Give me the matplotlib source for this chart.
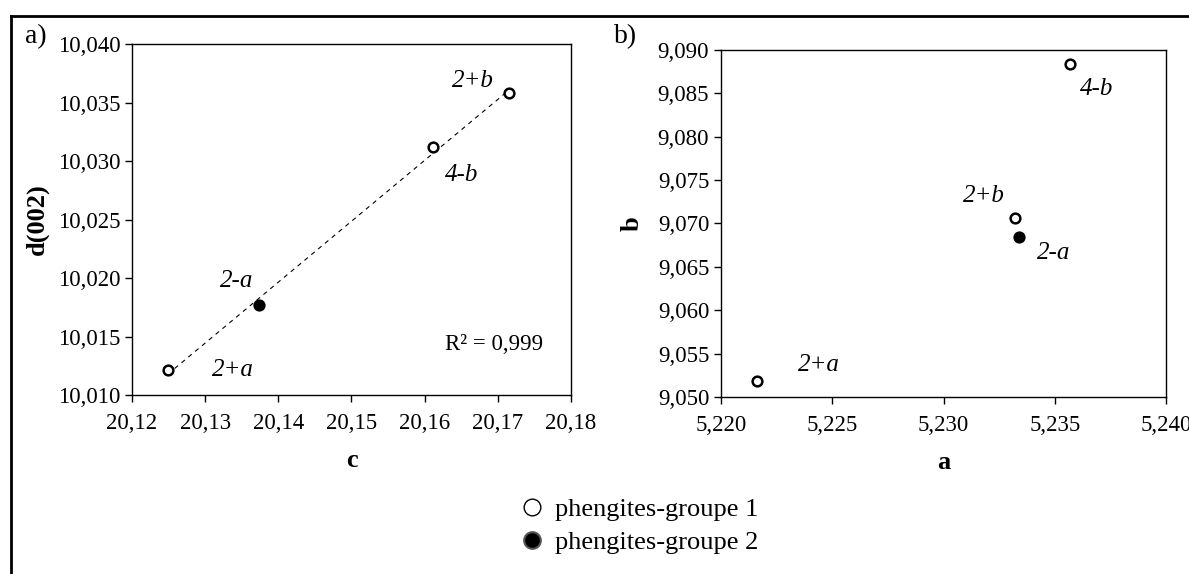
import numpy as np
import matplotlib
matplotlib.use('Agg')
import matplotlib.pyplot as plt
from matplotlib.ticker import FuncFormatter, MultipleLocator
from matplotlib.lines import Line2D

plt.rcParams['font.family'] = ['Liberation Serif', 'DejaVu Serif']

# panel a) d(002) vs c
names_a = ['2+a', '2-a', '4-b', '2+b']
c_vals = [20.1249, 20.1374, 20.1612, 20.1715]
d002_vals = [10.0121, 10.0177, 10.0312, 10.0358]
group_a = [1, 2, 1, 1]

# panel b) b vs a
names_b = ['2+a', '2-a', '4-b', '2+b']
a_vals = [5.2216, 5.2334, 5.2357, 5.2332]
b_vals = [9.0518, 9.0684, 9.0884, 9.0706]
group_b = [1, 2, 1, 1]

r2_text = 'R² = 0,999'
legend_labels = ['phengites-groupe 1', 'phengites-groupe 2']

# label offsets in points (dx, dy)
offs_a = {'2+a': (47, 0), '2-a': (-16, 17), '4-b': (20, -20), '2+b': (-26, 9)}
offs_b = {'2+a': (45, 12), '2-a': (25, -11), '4-b': (19, -18), '2+b': (-22, 16)}


def comma_fmt(nd):
    return FuncFormatter(lambda v, p: ('{:.%df}' % nd).format(v).replace('.', ','))


def draw_points(ax, xs, ys, groups, names, offs):
    for x, y, g, n in zip(xs, ys, groups, names):
        face = 'white' if g == 1 else 'black'
        ax.plot(x, y, 'o', ms=7, mew=1.8, mfc=face, mec='black', zorder=3)
        dx, dy = offs[n]
        ax.annotate(n, (x, y), xytext=(dx, dy), textcoords='offset points',
                    ha='center', va='center', fontsize=18, style='italic')


def style_axes(ax):
    for s in ax.spines.values():
        s.set_linewidth(1.0)
    ax.tick_params(axis='x', pad=8)
    ax.tick_params(direction='out', length=5, width=1, labelsize=16.5,
                   top=False, right=False)


fig = plt.figure(figsize=(11.89, 5.74), dpi=100)

ax1 = fig.add_axes([0.1110, 0.3118, 0.3692, 0.6115])
ax2 = fig.add_axes([0.6064, 0.3084, 0.3743, 0.6045])

# left panel
coef = np.polyfit(c_vals, d002_vals, 1)
xfit = np.array([min(c_vals), max(c_vals)])
ax1.plot(xfit, np.polyval(coef, xfit), ls=(0, (4, 4)), color='black', lw=0.8, zorder=2)
draw_points(ax1, c_vals, d002_vals, group_a, names_a, offs_a)
ax1.set_xlim(20.12, 20.18)
ax1.set_ylim(10.010, 10.040)
ax1.xaxis.set_major_locator(MultipleLocator(0.01))
ax1.yaxis.set_major_locator(MultipleLocator(0.005))
ax1.xaxis.set_major_formatter(comma_fmt(2))
ax1.yaxis.set_major_formatter(comma_fmt(3))
ax1.set_xlabel('c', fontsize=19, fontweight='bold', labelpad=11)
ax1.set_ylabel('d(002)', fontsize=19, fontweight='bold', labelpad=6)
ax1.text(0.825, 0.145, r2_text, transform=ax1.transAxes, ha='center', va='center', fontsize=16.5)
style_axes(ax1)

# right panel
draw_points(ax2, a_vals, b_vals, group_b, names_b, offs_b)
ax2.set_xlim(5.220, 5.240)
ax2.set_ylim(9.050, 9.090)
ax2.xaxis.set_major_locator(MultipleLocator(0.005))
ax2.yaxis.set_major_locator(MultipleLocator(0.005))
ax2.xaxis.set_major_formatter(comma_fmt(3))
ax2.yaxis.set_major_formatter(comma_fmt(3))
ax2.set_xlabel('a', fontsize=19, fontweight='bold', labelpad=11)
ax2.set_ylabel('b', fontsize=19, fontweight='bold', labelpad=10)
style_axes(ax2)

# panel letters
fig.text(36 / 1189, 1 - 37 / 574, 'a)', fontsize=20, ha='center', va='center')
fig.text(626 / 1189, 1 - 37 / 574, 'b)', fontsize=20, ha='center', va='center')

# legend
handles = [
    Line2D([], [], ls='', marker='o', ms=12, mfc='white', mec='black', mew=1.0),
    Line2D([], [], ls='', marker='o', ms=12, mfc='black', mec='#555555', mew=1.5),
]
fig.legend(handles, legend_labels, loc='center left', bbox_to_anchor=(506 / 1189, 1 - 526 / 574),
           frameon=False, fontsize=19, handletextpad=0.35, labelspacing=0.35,
           handlelength=1.0, borderpad=0)

# outer frame (top and left edges)
fig.add_artist(Line2D([11 / 1189, 1], [1 - 16 / 574, 1 - 16 / 574], transform=fig.transFigure,
                      color='black', lw=2))
fig.add_artist(Line2D([11 / 1189, 11 / 1189], [0, 1 - 16 / 574], transform=fig.transFigure,
                      color='black', lw=2))

fig.savefig('out.png', dpi=100)
